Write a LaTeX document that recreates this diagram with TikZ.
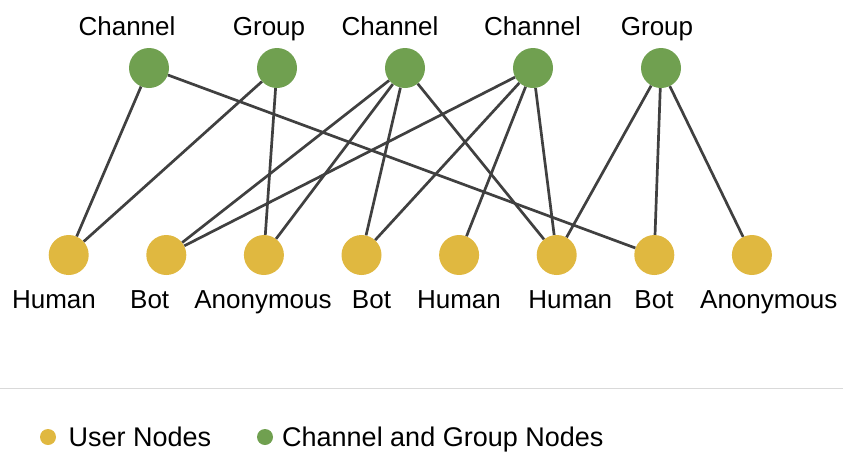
\documentclass[tikz,border=0pt]{standalone}
\usepackage{fontspec}
\setmainfont{Liberation Sans}
\definecolor{usercol}{RGB}{224,184,64}
\definecolor{groupcol}{RGB}{112,160,80}
\definecolor{edgecol}{RGB}{64,64,64}
\definecolor{rulecol}{RGB}{217,217,217}
\begin{document}
\begin{tikzpicture}[x=1pt,y=-1pt,
  user/.style={circle,fill=usercol,draw=none,minimum size=40pt,inner sep=0pt},
  chan/.style={circle,fill=groupcol,draw=none,minimum size=40pt,inner sep=0pt},
  lbl/.style={anchor=base,inner sep=0pt,font=\fontsize{26}{30}\selectfont},
  leglbl/.style={anchor=base west,inner sep=0pt,font=\fontsize{27}{31}\selectfont},
  link/.style={draw=edgecol,line width=2.7pt},
  legdot/.style={circle,draw=none,minimum size=16pt,inner sep=0pt}]
\useasboundingbox (0,0) rectangle (843,451);

% channel and group nodes
\node[chan] (c1) at (149,68) {};
\node[chan] (c2) at (277,68) {};
\node[chan] (c3) at (405,68) {};
\node[chan] (c4) at (533,68) {};
\node[chan] (c5) at (661,68) {};

% user nodes
\node[user] (u1) at (68.7,255) {};
\node[user] (u2) at (166.3,255) {};
\node[user] (u3) at (263.9,255) {};
\node[user] (u4) at (361.5,255) {};
\node[user] (u5) at (459.1,255) {};
\node[user] (u6) at (556.7,255) {};
\node[user] (u7) at (654.3,255) {};
\node[user] (u8) at (751.9,255) {};

% memberships
\draw[link] (c1) -- (u1);
\draw[link] (c1) -- (u7);
\draw[link] (c2) -- (u1);
\draw[link] (c2) -- (u3);
\draw[link] (c3) -- (u2);
\draw[link] (c3) -- (u3);
\draw[link] (c3) -- (u4);
\draw[link] (c3) -- (u6);
\draw[link] (c4) -- (u2);
\draw[link] (c4) -- (u4);
\draw[link] (c4) -- (u5);
\draw[link] (c4) -- (u6);
\draw[link] (c5) -- (u6);
\draw[link] (c5) -- (u7);
\draw[link] (c5) -- (u8);

% top labels
\node[lbl] (t1) at (127,35) {Channel};
\node[lbl] (t2) at (269,35) {Group};
\node[lbl] (t3) at (390,35) {Channel};
\node[lbl] (t4) at (532.5,35) {Channel};
\node[lbl] (t5) at (657,35) {Group};

% bottom labels
\node[lbl] (b1) at (54,308) {Human};
\node[lbl] (b2) at (149.7,308) {Bot};
\node[lbl] (b3) at (263,308) {Anonymous};
\node[lbl] (b4) at (371.5,308) {Bot};
\node[lbl] (b5) at (459,308) {Human};
\node[lbl] (b6) at (570.3,308) {Human};
\node[lbl] (b7) at (654,308) {Bot};
\node[lbl] (b8) at (768.8,308) {Anonymous};

% legend
\coordinate (rl) at (0,388.5);
\coordinate (rr) at (843,388.5);
\draw[rulecol,line width=1.2pt] (rl) -- (rr);
\node[legdot,fill=usercol] (d1) at (48,437) {};
\node[leglbl] (l1) at (68.5,446) {User Nodes};
\node[legdot,fill=groupcol] (d2) at (265,437) {};
\node[leglbl] (l2) at (282,446) {Channel and Group Nodes};
\end{tikzpicture}
\end{document}
